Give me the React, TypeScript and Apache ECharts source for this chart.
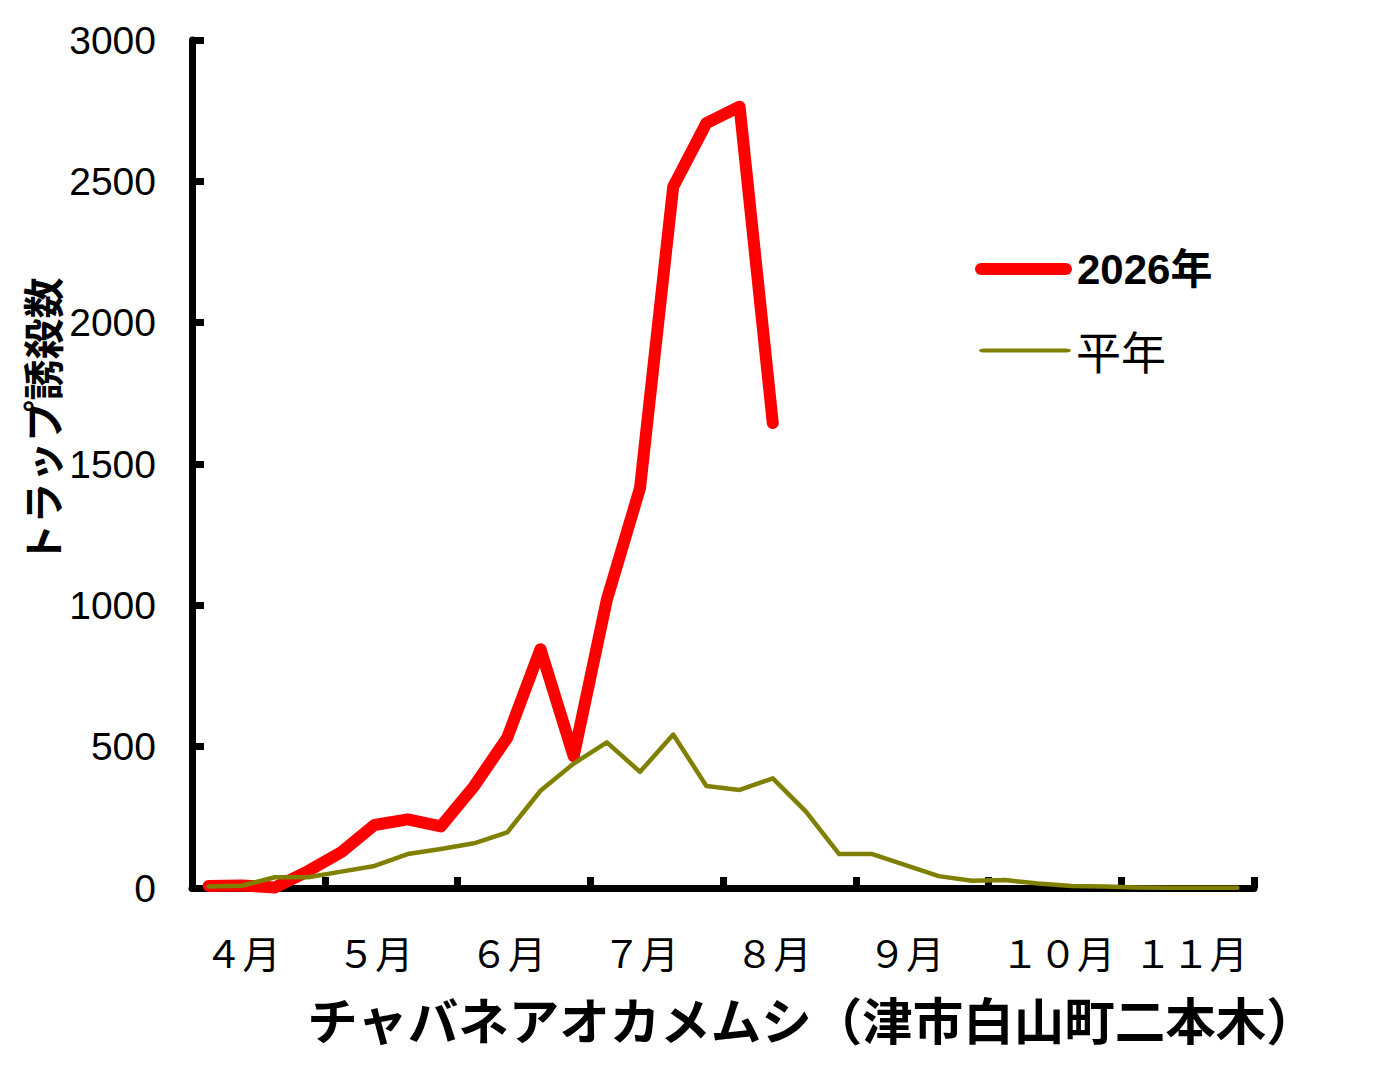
import React, { useEffect, useRef } from "react";
import * as echarts from "echarts";

// ---- data ----
const months = ["４月", "５月", "６月", "７月", "８月", "９月", "１０月", "１１月"];
const weekNames = ["第1半旬", "第2半旬", "第3半旬", "第4半旬"];
const weeks = months.flatMap((m) => weekNames.map((w) => m + w));

// 2026年 trap catches (per quarter-month)
const catches2026 = [7, 9, 2, 60, 127, 223, 243, 218, 360, 532, 845, 466, 1020, 1415, 2481, 2706, 2764, 1645];
// 平年 (average year)
const catchesAvg = [5, 8, 38, 38, 58, 78, 120, 138, 158, 197, 344, 440, 515, 411, 543, 361, 347, 388, 270, 120, 120, 81, 42, 26, 28, 16, 7, 5, 2, 1, 1, 1];

const yTicks = { min: 0, max: 3000, interval: 500 };

const seriesNames = ["2026年", "平年"];
const yAxisTitle = "トラップ誘殺数";
const xAxisTitle = "チャバネアオカメムシ（津市白山町二本木）";

const FONT = "'Liberation Sans', 'Noto Sans CJK JP', sans-serif";
const CJK = "'Noto Sans CJK JP', 'Liberation Sans', sans-serif";
const RED = "#FF0000";
const OLIVE = "#808000";
const capsule = "path://M6,0 L89,0 A6,6 0 0 1 89,12 L6,12 A6,6 0 0 1 6,0 Z";

export default function App() {
  const ref = useRef<HTMLDivElement>(null);
  useEffect(() => {
    if (!ref.current) return;
    const chart = echarts.init(ref.current, null, { renderer: "svg" });
    const axisLine = { show: true, lineStyle: { color: "#000", width: 7 } };
    chart.setOption({
      animation: false,
      backgroundColor: "#fff",
      grid: { left: 192, right: 124, top: 40, bottom: 178, containLabel: false },
      xAxis: [
        { type: "category", data: weeks, boundaryGap: true, show: false },
        {
          type: "category",
          data: months,
          boundaryGap: true,
          position: "bottom",
          axisLine,
          axisTick: { show: true, inside: true, length: 11, alignWithLabel: false, interval: 0, lineStyle: { color: "#000", width: 7 } },
          axisLabel: {
            interval: 0,
            margin: 44,
            fontSize: 38,
            color: "#000",
            fontFamily: CJK,
            formatter: (v: string) => `{m|${v}}`,
            rich: { m: { width: 108, align: "left", fontSize: 38, color: "#000", fontFamily: CJK } },
          },
          splitLine: { show: false },
        },
      ],
      yAxis: {
        type: "value",
        min: yTicks.min,
        max: yTicks.max,
        interval: yTicks.interval,
        axisLine,
        axisTick: { show: true, inside: true, length: 12, lineStyle: { color: "#000", width: 7 } },
        axisLabel: { margin: 36, fontSize: 39, color: "#000", fontFamily: FONT, formatter: (v: number) => String(v) },
        splitLine: { show: false },
      },
      legend: [
        {
          data: [{ name: seriesNames[0], icon: capsule, itemStyle: { color: RED, borderWidth: 0 } }],
          left: 975,
          top: 248,
          padding: 0,
          itemWidth: 97,
          itemHeight: 12,
          symbolKeepAspect: false,
          selectedMode: false,
          textStyle: { fontSize: 42, fontWeight: "bold", color: "#000", fontFamily: FONT },
        },
        {
          data: [{ name: seriesNames[1], icon: capsule, itemStyle: { color: OLIVE, borderWidth: 0 } }],
          left: 979,
          top: 328,
          padding: 0,
          itemWidth: 92,
          itemHeight: 4,
          symbolKeepAspect: false,
          selectedMode: false,
          textStyle: { fontSize: 45, color: "#000", fontFamily: CJK },
        },
      ],
      graphic: [
        {
          type: "text",
          x: 41,
          y: 421,
          rotation: Math.PI / 2,
          style: {
            text: yAxisTitle,
            fontSize: 41,
            fontFamily: CJK,
            fontWeight: "bold",
            fill: "#000",
            textAlign: "center",
            textVerticalAlign: "middle",
          },
        },
        {
          type: "text",
          x: 812,
          y: 1018,
          style: {
            text: xAxisTitle,
            fontSize: 50.5,
            fontFamily: CJK,
            fontWeight: "bold",
            fill: "#000",
            textAlign: "center",
            textVerticalAlign: "middle",
          },
        },
      ],
      series: [
        {
          name: seriesNames[0],
          type: "line",
          xAxisIndex: 0,
          data: catches2026,
          symbol: "none",
          itemStyle: { color: RED },
          lineStyle: { color: RED, width: 12, cap: "round", join: "round" },
        },
        {
          name: seriesNames[1],
          type: "line",
          xAxisIndex: 0,
          data: catchesAvg,
          symbol: "none",
          itemStyle: { color: OLIVE },
          lineStyle: { color: OLIVE, width: 4.5, cap: "round", join: "round" },
        },
      ],
    });
    return () => chart.dispose();
  }, []);
  return (
    <div
      ref={ref}
      style={{ position: "fixed", left: 0, top: 0, width: 1378, height: 1066, background: "#fff" }}
    />
  );
}
